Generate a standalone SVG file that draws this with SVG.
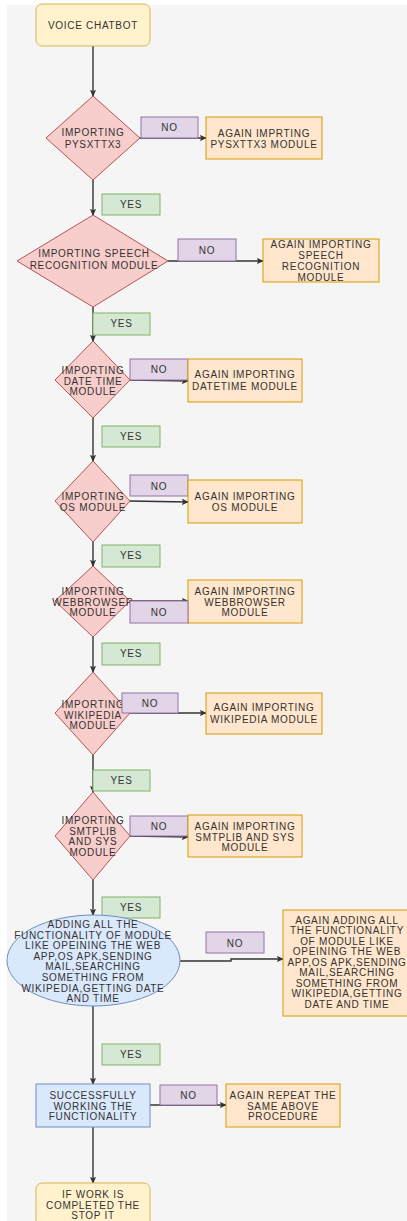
<svg xmlns="http://www.w3.org/2000/svg" width="407" height="1221" viewBox="0 0 407 1221">
<defs>
<marker id="ar" viewBox="0 0 8 8" refX="7" refY="4" markerWidth="7" markerHeight="7" markerUnits="userSpaceOnUse" orient="auto">
<path d="M0,0.5 L8,4 L0,7.5 L1.5,4 z" fill="#333"/>
</marker>
</defs>
<style>
text{font-family:"Liberation Sans",Arial,sans-serif;font-size:10px;letter-spacing:0.7px;fill:#333;text-anchor:middle}
.e{fill:none;stroke:#333;stroke-width:1.4}
.ea{fill:none;stroke:#333;stroke-width:1.4;marker-end:url(#ar)}
.term{fill:#fff2cc;stroke:#d6b656;stroke-width:1}
.dec{fill:#f8cecc;stroke:#b85450;stroke-width:1}
.no{fill:#e1d5e7;stroke:#9673a6;stroke-width:1}
.yes{fill:#d5e8d4;stroke:#82b366;stroke-width:1}
.tgt{fill:#ffe6cc;stroke:#d79b00;stroke-width:1}
.blu{fill:#dae8fc;stroke:#6c8ebf;stroke-width:1}
</style>
<rect x="7" y="5" width="400" height="1216" fill="#f5f5f5"/>

<g id="connectors">
<line class="ea" x1="93" y1="46" x2="93" y2="96"/>
<line class="ea" x1="93" y1="180" x2="93" y2="215"/>
<line class="ea" x1="93" y1="307" x2="93" y2="341"/>
<line class="ea" x1="93" y1="418" x2="93" y2="461"/>
<line class="ea" x1="93" y1="542" x2="93" y2="566"/>
<line class="ea" x1="93" y1="637" x2="93" y2="672"/>
<line class="ea" x1="93" y1="755" x2="93" y2="792"/>
<line class="ea" x1="93" y1="880" x2="93" y2="915"/>
<line class="ea" x1="93" y1="1006" x2="93" y2="1084"/>
<line class="ea" x1="93" y1="1127" x2="93" y2="1183"/>
<line class="ea" x1="140" y1="138" x2="206" y2="138"/>
<line class="ea" x1="168" y1="261" x2="263" y2="261"/>
<line class="ea" x1="130" y1="380" x2="188" y2="381"/>
<line class="ea" x1="130" y1="501" x2="188" y2="502"/>
<line class="ea" x1="130" y1="601" x2="188" y2="601"/>
<line class="ea" x1="130" y1="713" x2="206" y2="713"/>
<line class="ea" x1="130" y1="836" x2="188" y2="837"/>
<path class="ea" d="M180,961 L231,961 L231,959 L283,959"/>
<line class="ea" x1="150" y1="1105" x2="226" y2="1105"/>
</g>

<g id="start"><rect class="term" x="36" y="4" width="114" height="42" rx="6"/><text x="93" y="29">VOICE CHATBOT</text></g>

<g id="d1"><polygon class="dec" points="93,96 140,138 93,180 46,138"/><text x="93" y="136">IMPORTING</text><text x="93" y="148">PYSXTTX3</text></g>
<g id="no1"><rect class="no" x="141" y="117" width="57" height="21"/><text x="169.5" y="131">NO</text></g>
<g id="t1"><rect class="tgt" x="206" y="117" width="116" height="42"/><text x="264" y="137">AGAIN IMPRTING</text><text x="264" y="148">PYSXTTX3 MODULE</text></g>
<g id="yes1"><rect class="yes" x="102" y="194" width="58" height="21"/><text x="131" y="208">YES</text></g>

<g id="d2"><polygon class="dec" points="93,215 168,261 93,307 17,261"/><text x="94" y="257">IMPORTING SPEECH</text><text x="94" y="269">RECOGNITION MODULE</text></g>
<g id="no2"><rect class="no" x="178" y="239" width="58" height="22"/><text x="207" y="254">NO</text></g>
<g id="t2"><rect class="tgt" x="263" y="239" width="116" height="43"/><text x="321" y="248">AGAIN IMPORTING</text><text x="321" y="259">SPEECH</text><text x="321" y="270">RECOGNITION</text><text x="321" y="281">MODULE</text></g>
<g id="yes2"><rect class="yes" x="93" y="313" width="57" height="22"/><text x="121.5" y="327">YES</text></g>

<g id="d3"><polygon class="dec" points="93,341 130,380 93,418 55,380"/><text x="93" y="374">IMPORTING</text><text x="93" y="384.5">DATE TIME</text><text x="93" y="395">MODULE</text></g>
<g id="no3"><rect class="no" x="130" y="359" width="58" height="21"/><text x="159" y="373">NO</text></g>
<g id="t3"><rect class="tgt" x="188" y="359" width="114" height="43"/><text x="245" y="378">AGAIN IMPORTING</text><text x="245" y="389.5">DATETIME MODULE</text></g>
<g id="yes3"><rect class="yes" x="102" y="426" width="58" height="21"/><text x="131" y="440">YES</text></g>

<g id="d4"><polygon class="dec" points="93,461 130,501 93,542 55,501"/><text x="93" y="500">IMPORTING</text><text x="93" y="510.5">OS MODULE</text></g>
<g id="no4"><rect class="no" x="130" y="475" width="58" height="21"/><text x="159" y="489.5">NO</text></g>
<g id="t4"><rect class="tgt" x="188" y="480" width="114" height="43"/><text x="245" y="500">AGAIN IMPORTING</text><text x="245" y="510.5">OS MODULE</text></g>
<g id="yes4"><rect class="yes" x="102" y="545" width="58" height="22"/><text x="131" y="559">YES</text></g>

<g id="d5"><polygon class="dec" points="93,566 130,601 93,637 55,601"/><text x="93" y="595">IMPORTING</text><text x="93" y="605.5">WEBBROWSER</text><text x="93" y="616">MODULE</text></g>
<g id="t5"><rect class="tgt" x="188" y="580" width="114" height="43"/><text x="245" y="595">AGAIN IMPORTING</text><text x="245" y="605.5">WEBBROWSER</text><text x="245" y="616">MODULE</text></g>
<g id="no5"><rect class="no" x="130" y="601" width="58" height="22"/><text x="159" y="615.5">NO</text></g>
<g id="yes5"><rect class="yes" x="102" y="643" width="58" height="22"/><text x="131" y="657">YES</text></g>

<g id="d6"><polygon class="dec" points="93,672 130,713 93,755 55,713"/><text x="93" y="708">IMPORTING</text><text x="93" y="718.5">WIKIPEDIA</text><text x="93" y="729">MODULE</text></g>
<g id="no6"><rect class="no" x="122" y="693" width="56" height="20"/><text x="150" y="707">NO</text></g>
<g id="t6"><rect class="tgt" x="206" y="693" width="116" height="41"/><text x="264" y="711">AGAIN IMPORTING</text><text x="264" y="723">WIKIPEDIA MODULE</text></g>
<g id="yes6"><rect class="yes" x="93" y="770" width="57" height="21"/><text x="121.5" y="784">YES</text></g>

<g id="d7"><polygon class="dec" points="93,792 130,836 93,880 55,836"/><text x="93" y="824">IMPORTING</text><text x="93" y="834.5">SMTPLIB</text><text x="93" y="845">AND SYS</text><text x="93" y="855.5">MODULE</text></g>
<g id="no7"><rect class="no" x="130" y="816" width="58" height="20"/><text x="159" y="829.5">NO</text></g>
<g id="t7"><rect class="tgt" x="188" y="815" width="114" height="42"/><text x="245" y="830">AGAIN IMPORTING</text><text x="245" y="840.5">SMTPLIB AND SYS</text><text x="245" y="851">MODULE</text></g>
<g id="yes7"><rect class="yes" x="102" y="897" width="58" height="21"/><text x="131" y="910.5">YES</text></g>

<g id="ell"><ellipse class="blu" cx="93.5" cy="960.5" rx="86.5" ry="45.5"/>
<text x="93" y="928">ADDING ALL THE</text><text x="93" y="938.6">FUNCTIONALITY OF MODULE</text><text x="93" y="949.2">LIKE OPEINING THE WEB</text><text x="93" y="959.8">APP,OS APK,SENDING</text><text x="93" y="970.4">MAIL,SEARCHING</text><text x="93" y="981">SOMETHING FROM</text><text x="93" y="991.6">WIKIPEDIA,GETTING DATE</text><text x="93" y="1002.2">AND TIME</text></g>
<g id="no8"><rect class="no" x="206" y="932" width="58" height="21"/><text x="235" y="946.5">NO</text></g>
<g id="t8"><rect class="tgt" x="283" y="910" width="128" height="106"/>
<text x="347" y="923.5">AGAIN ADDING ALL</text><text x="347" y="934">THE FUNCTIONALITY</text><text x="347" y="944.5">OF MODULE LIKE</text><text x="347" y="955">OPEINING THE WEB</text><text x="347" y="965.5">APP,OS APK,SENDING</text><text x="347" y="976">MAIL,SEARCHING</text><text x="347" y="986.5">SOMETHING FROM</text><text x="347" y="997">WIKIPEDIA,GETTING</text><text x="347" y="1007.5">DATE AND TIME</text></g>
<g id="yes8"><rect class="yes" x="102" y="1044" width="58" height="21"/><text x="131" y="1058">YES</text></g>

<g id="work"><rect class="blu" x="36" y="1084" width="114" height="43"/><text x="93" y="1099">SUCCESSFULLY</text><text x="93" y="1109.5">WORKING THE</text><text x="93" y="1120">FUNCTIONALITY</text></g>
<g id="no9"><rect class="no" x="160" y="1085" width="57" height="20"/><text x="188.5" y="1099">NO</text></g>
<g id="t9"><rect class="tgt" x="226" y="1084" width="114" height="43"/><text x="283" y="1099">AGAIN REPEAT THE</text><text x="283" y="1109.5">SAME ABOVE</text><text x="283" y="1120">PROCEDURE</text></g>

<g id="end"><rect class="term" x="36" y="1183" width="114" height="46" rx="6"/><text x="93" y="1198">IF WORK IS</text><text x="93" y="1208.5">COMPLETED THE</text><text x="93" y="1219">STOP IT</text></g>
</svg>
